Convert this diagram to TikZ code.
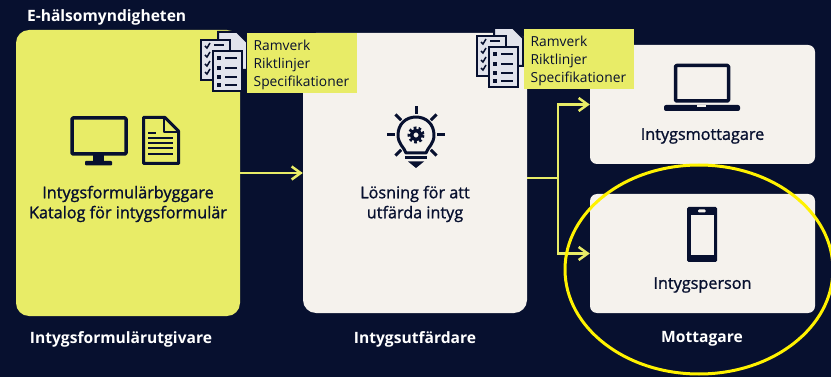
\documentclass[tikz,border=0pt]{standalone}
\usepackage{fontspec}
\setmainfont{Open Sans}
\newfontfamily\semifont[FakeBold=1.2]{Open Sans}
\usetikzlibrary{arrows.meta,shapes.geometric}
\definecolor{navy}{HTML}{07102F}
\definecolor{lime}{HTML}{E8EC67}
\definecolor{cream}{HTML}{F5F2ED}
\definecolor{paper}{HTML}{E1E3EC}
\tikzset{
  box/.style={draw=none,fill=cream,rounded corners=7pt,inner sep=0pt},
  bigbox/.style={box,rounded corners=13pt,minimum width=224pt,minimum height=280pt},
  smallbox/.style={box,minimum width=225pt,minimum height=119pt},
  note/.style={fill=lime,text=navy,font=\fontsize{13.8}{17.8}\selectfont,align=left,
    anchor=north west,inner sep=0pt,text width=97pt,minimum height=60pt,inner xsep=6.5pt,
    execute at begin node=\rule{0pt}{14pt}},
  boxtext/.style={text=navy,font=\fontsize{16.2}{20}\selectfont\semifont,align=center},
  head/.style={text=white,font=\fontsize{15.6}{18}\selectfont\bfseries},
  link/.style={draw=lime,line width=2.5pt,-{Straight Barb[length=9pt,width=13pt,line width=2.5pt]}},
  icon/.style={draw=navy,line width=3.5pt,line join=round},
  pics/docstack/.style={code={
    \draw[draw=navy,fill=paper,line width=2pt] (18,-7) -- (37,-7) -- (47,3) -- (47,31) -- (18,31) -- cycle;
    \draw[draw=navy,fill=paper,line width=2.5pt] (1,1) rectangle (30,41);
    \foreach \y in {7,16,25,33}
      \draw[draw=navy,line width=1.5pt] (5,\y) -- (7,\y+2) -- (10,\y-3);
    \draw[draw=navy,line width=1.5pt] (14,6) -- (24,6);
    \draw[draw=navy,fill=paper,line width=2.5pt] (13,12) rectangle (42,52);
    \foreach \y in {19,29,38,46}{
      \fill[navy] (17,\y-2) rectangle (21,\y+2);
      \draw[draw=navy,line width=1.5pt] (25,\y) -- (37,\y);}
  }},
}
\begin{document}
\begin{tikzpicture}[x=1pt,y=-1pt]
  \useasboundingbox (0,0) rectangle (831,377);
  \fill[navy] (0,0) rectangle (831,377);

  \node[bigbox,fill=lime,minimum height=286pt] (former) at (128,173) {};
  \node[bigbox] (issuer) at (415,173) {};
  \node[smallbox] (receiver) at (702.5,104.5) {};
  \node[smallbox] (person) at (702.5,253.5) {};

  \coordinate (fork) at (558,178);
  \draw[link] (former.east) -- (issuer.west);
  \draw[draw=lime,line width=2.5pt] (issuer.east |- fork) -- (fork);
  \draw[link] (fork) |- (receiver.west);
  \draw[link] (fork) |- (person.west);

  % monitor and form
  \draw[icon,rounded corners=1pt] (72,118) rectangle (126,154);
  \fill[navy] (93,155) rectangle (104,162);
  \fill[navy,rounded corners=1pt] (85,161) rectangle (112,165.5);
  \draw[icon,line width=3pt] (143.5,117.5) -- (165,117.5) -- (178.5,131) -- (178.5,163.5) -- (143.5,163.5) -- cycle;
  \draw[icon,line width=2pt] (164,118) -- (164,132) -- (178,132);
  \foreach \y in {138,143,148,154}
    \draw[draw=navy,line width=1.8pt] (148,\y) -- (173,\y);
  \draw[draw=navy,line width=1.8pt] (148,133) -- (156,133);

  % bulb
  \draw[icon,line width=3pt] (406,153) .. controls (404,147) and (398,144) .. (398,135)
    .. controls (398,124) and (406,117) .. (416,117)
    .. controls (426,117) and (434,124) .. (434,135)
    .. controls (434,144) and (428,147) .. (426,153) -- cycle;
  \draw[draw=navy,line width=4pt,dash pattern=on 2.5pt off 2.2pt] (416,135) circle (6.5);
  \draw[draw=navy,line width=3.5pt] (416,135) circle (4.5);
  \draw[draw=navy,line width=3pt] (405,158) -- (427,158);
  \fill[navy] (408,161.5) -- (424,161.5) -- (416,168) -- cycle;
  \foreach \a in {0,180,-90,-45,-135,45,135}
    \draw[draw=navy,line width=3pt] (416,135) ++(\a:21) -- ++(\a:8);

  % laptop
  \draw[icon,rounded corners=1pt] (675.5,65.5) rectangle (728.5,101);
  \fill[navy,rounded corners=2pt] (664,105) rectangle (740,111);
  \fill[cream] (697,105) rectangle (706,107);

  % phone
  \fill[navy,rounded corners=1.5pt] (687,207) rectangle (717,262);
  \fill[cream] (690.5,215) rectangle (713.5,255);
  \fill[cream,rounded corners=1pt] (698,209.5) rectangle (705.5,212.5);

  \node[boxtext] (formertext) at (128,204) {Intygsformulärbyggare\\Katalog för intygsformulär};
  \node[boxtext] (issuertext) at (415,204) {Lösning för att\\utfärda intyg};
  \node[boxtext] (receivertext) at (702.5,136) {Intygsmottagare};
  \node[boxtext] (persontext) at (702.5,285) {Intygsperson};

  \node[head,anchor=west] (agency) at (23.5,17) {E-hälsomyndigheten};
  \node[head] (formerhead) at (121,339) {Intygsformulärutgivare};
  \node[head] (issuerhead) at (415,339) {Intygsutfärdare};
  \node[head] (personhead) at (702,339) {Mottagare};

  \pic at (200,39) {docstack};
  \pic at (476,35) {docstack};
  \node[note] (notea) at (247,33) {Ramverk\\Riktlinjer\\Specifikationer};
  \node[note] (noteb) at (524,29) {Ramverk\\Riktlinjer\\Specifikationer};

  \node[draw=yellow,line width=3pt,ellipse,minimum width=268pt,minimum height=209pt,inner sep=0pt] (ring) at (699,269.5) {};
\end{tikzpicture}
\end{document}
